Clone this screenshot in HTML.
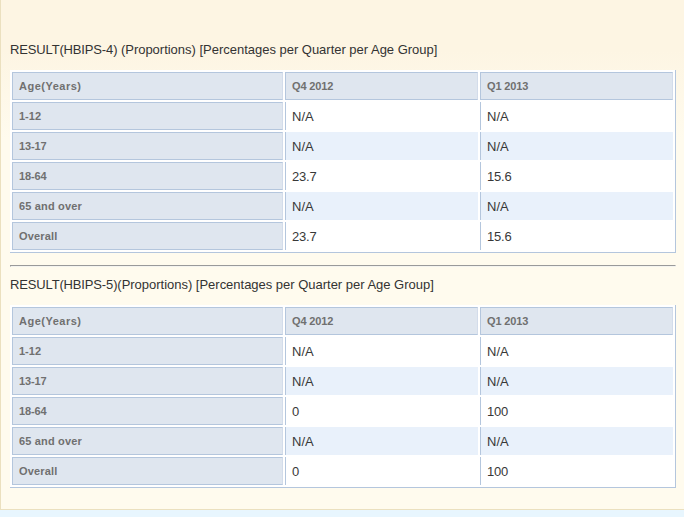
<!DOCTYPE html>
<html><head><meta charset="utf-8">
<style>
html,body{margin:0;padding:0;}
body{width:684px;height:517px;overflow:hidden;background:#e8f6fe;font-family:"Liberation Sans",sans-serif;position:relative;}
#box{position:absolute;left:0;top:-1px;width:700px;height:511px;box-sizing:border-box;border:1px solid #ebe0bf;background:linear-gradient(#fdf5e3 0,#fdf5e3 50px,#fffbee 140px,#fffbee 100%);}
.title{position:absolute;left:9px;font-size:13px;color:#333;white-space:nowrap;line-height:14px;letter-spacing:-0.015px;}
.u{letter-spacing:-0.15px;}
table{position:absolute;left:9px;width:665px;border-collapse:separate;border-spacing:2px;background:#fff;border-right:1px solid #b4c6dd;border-bottom:1px solid #b4c6dd;table-layout:fixed;}
td,th{height:28px;box-sizing:border-box;padding:0 0 0 6px;text-align:left;vertical-align:middle;}
th{background:#dfe6ef;border:1px solid #b4c6dd;border-right-color:#d3dcea;font-size:11px;font-weight:bold;color:#707070;}
td{border-left:1px solid #b4c6dd;font-size:13px;color:#383838;}
th.q{letter-spacing:-0.15px;}
th.w{letter-spacing:0.17px;}
th.n{letter-spacing:-0.12px;}
td.d{letter-spacing:-0.23px;}
tr.alt td{background:#e9f1fb;}
hr{position:absolute;left:9px;top:265px;width:664px;height:0;margin:0;border-style:solid;border-width:1px;border-color:#9a9a9a #f4f4f0 #f4f4f0 #9a9a9a;}
</style></head><body>
<div id="box">
<div class="title" style="top:43px"><span class="u">RESULT(HBIPS-4)</span> (Proportions) [Percentages per Quarter per Age Group]</div>
<table style="top:70px"><colgroup><col style="width:271px"><col style="width:193px"><col style="width:193px"></colgroup>
<tr><th style="letter-spacing:0.5px">Age(Years)</th><th class="q">Q4 2012</th><th class="q">Q1 2013</th></tr>
<tr><th>1-12</th><td>N/A</td><td>N/A</td></tr>
<tr class="alt"><th class="n">13-17</th><td>N/A</td><td>N/A</td></tr>
<tr><th class="n">18-64</th><td class="d">23.7</td><td class="d">15.6</td></tr>
<tr class="alt"><th class="w">65 and over</th><td>N/A</td><td>N/A</td></tr>
<tr><th class="w">Overall</th><td class="d">23.7</td><td class="d">15.6</td></tr>
</table>
<hr>
<div class="title" style="top:278px"><span class="u">RESULT(HBIPS-5)</span>(Proportions) [Percentages per Quarter per Age Group]</div>
<table style="top:305px"><colgroup><col style="width:271px"><col style="width:193px"><col style="width:193px"></colgroup>
<tr><th style="letter-spacing:0.5px">Age(Years)</th><th class="q">Q4 2012</th><th class="q">Q1 2013</th></tr>
<tr><th>1-12</th><td>N/A</td><td>N/A</td></tr>
<tr class="alt"><th class="n">13-17</th><td>N/A</td><td>N/A</td></tr>
<tr><th class="n">18-64</th><td class="d">0</td><td class="d">100</td></tr>
<tr class="alt"><th class="w">65 and over</th><td>N/A</td><td>N/A</td></tr>
<tr><th class="w">Overall</th><td class="d">0</td><td class="d">100</td></tr>
</table>
</div>
</body></html>
